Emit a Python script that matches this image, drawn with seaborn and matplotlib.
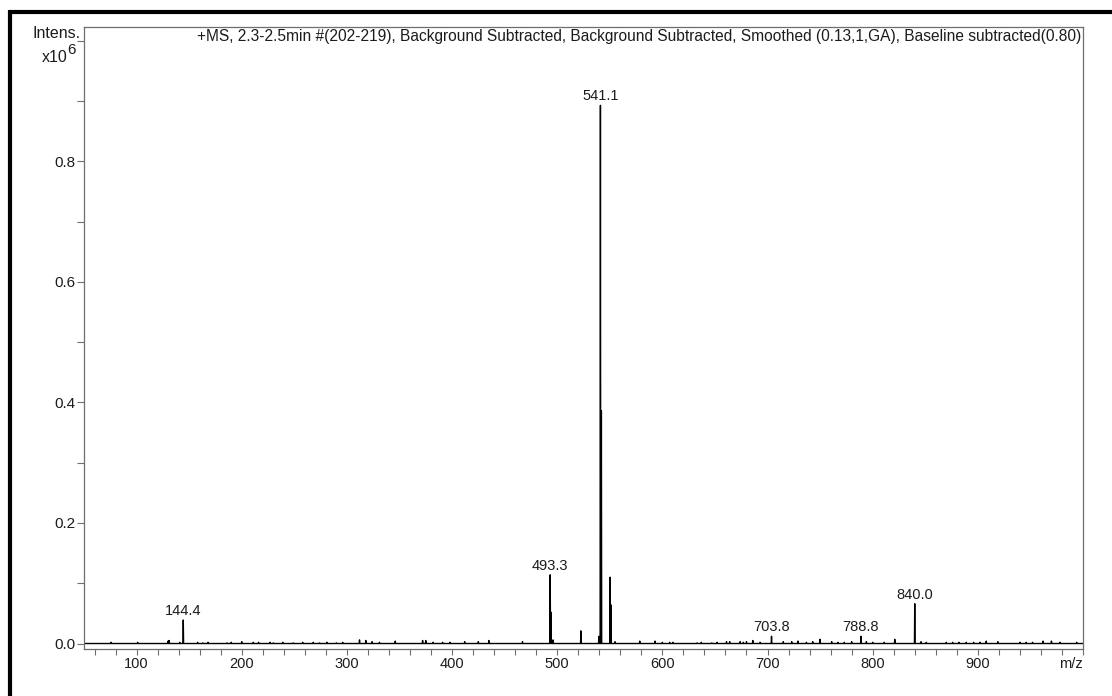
import numpy as np
import pandas as pd
import matplotlib
matplotlib.use("Agg")
import matplotlib.pyplot as plt
from matplotlib.lines import Line2D
from matplotlib.ticker import MultipleLocator
import seaborn as sns

# Main peaks (m/z, intensity x10^6)
main_mz = [130.0, 131.0, 144.4, 493.3, 494.0, 522.5, 539.6, 541.1, 542.0, 550.3, 551.2,
           703.8, 788.8, 840.0]
main_int = [0.004, 0.005, 0.039, 0.114, 0.052, 0.021, 0.012, 0.893, 0.386, 0.110, 0.064,
            0.012, 0.012, 0.066]

# Low-level background peaks
noise_mz = [75.7, 101.0, 141.0, 158.0, 163.0, 168.0, 186.0, 190.0, 200.0, 211.0, 216.0,
            227.0, 230.0, 239.0, 249.0, 258.0, 268.0, 274.0, 281.0, 290.0, 296.0, 312.0,
            318.0, 324.0, 331.0, 346.0, 372.0, 375.0, 382.0, 391.0, 398.0, 412.0, 425.0,
            435.0, 467.0, 496.0, 555.0, 578.5, 593.0, 600.0, 607.0, 610.0, 633.0, 637.0,
            647.0, 652.0, 661.0, 664.0, 674.0, 677.0, 680.0, 686.0, 693.0, 715.0, 723.0,
            729.0, 737.0, 743.0, 750.0, 761.0, 767.0, 773.0, 780.0, 794.0, 800.0, 811.0,
            821.0, 846.0, 851.0, 870.0, 876.0, 882.0, 889.0, 896.0, 902.0, 908.0, 919.0,
            940.0, 946.0, 952.0, 962.0, 970.0, 978.0, 994.0]
noise_int = [0.002, 0.002, 0.002, 0.002, 0.001, 0.002, 0.001, 0.002, 0.003, 0.002, 0.002,
             0.002, 0.001, 0.002, 0.001, 0.002, 0.002, 0.001, 0.002, 0.001, 0.002, 0.006,
             0.005, 0.003, 0.002, 0.004, 0.005, 0.005, 0.002, 0.002, 0.002, 0.003, 0.003,
             0.005, 0.003, 0.006, 0.003, 0.004, 0.004, 0.002, 0.002, 0.002, 0.001, 0.002,
             0.001, 0.002, 0.003, 0.003, 0.003, 0.002, 0.003, 0.005, 0.002, 0.003, 0.003,
             0.004, 0.002, 0.003, 0.007, 0.003, 0.002, 0.002, 0.003, 0.003, 0.002, 0.002,
             0.007, 0.003, 0.002, 0.002, 0.002, 0.002, 0.002, 0.002, 0.002, 0.004, 0.003,
             0.002, 0.002, 0.002, 0.004, 0.004, 0.002, 0.002]

# Annotated peaks
label_mz = [144.4, 493.3, 541.1, 703.8, 788.8, 840.0]
label_int = [0.039, 0.114, 0.893, 0.012, 0.012, 0.066]

title_text = ("+MS, 2.3-2.5min #(202-219), Background Subtracted, Background Subtracted, "
              "Smoothed (0.13,1,GA), Baseline subtracted(0.80)")

x_ticks = [100, 200, 300, 400, 500, 600, 700, 800, 900, 1000]
x_ticklabels = ["100", "200", "300", "400", "500", "600", "700", "800", "900", "m/z"]
y_ticks = [0.0, 0.2, 0.4, 0.6, 0.8, 1.0]
y_ticklabels = ["0.0", "0.2", "0.4", "0.6", "0.8", ""]

sns.set_style("ticks")
plt.rcParams["font.family"] = ["Liberation Sans", "DejaVu Sans"]

TXT = "#1c1c1c"
AX = "#6e6e6e"
W, H = 1112, 696

# Profile trace: each peak is a narrow triangle on a zero baseline
peaks = sorted(zip(main_mz + noise_mz, main_int + noise_int))
xs, ys = [50.0], [0.0]
hw = 0.3
for m, h in peaks:
    xs += [m - hw, m, m + hw]
    ys += [0.0, h, 0.0]
xs.append(1000.0)
ys.append(0.0)
spec = pd.DataFrame({"mz": xs, "intensity": ys})

fig = plt.figure(figsize=(W / 100, H / 100), dpi=100)
ax = fig.add_axes([84 / W, 47 / H, 999 / W, 622 / H])

sns.lineplot(data=spec, x="mz", y="intensity", sort=False, estimator=None,
             color="black", linewidth=1.0, ax=ax)

ax.set_xlim(50, 1000)
ax.set_ylim(-0.0091, 1.023)
ax.set_xlabel("")
ax.set_ylabel("")

ax.set_xticks(x_ticks)
ax.set_xticklabels(x_ticklabels)
ax.xaxis.set_minor_locator(MultipleLocator(20))
ax.set_yticks(y_ticks)
ax.set_yticklabels(y_ticklabels)
ax.yaxis.set_minor_locator(MultipleLocator(0.1))

ax.tick_params(axis="both", which="both", direction="out", color=AX, labelcolor=TXT,
               width=0.8)
ax.tick_params(axis="x", which="both", length=4, pad=2, labelsize=10.5)
ax.tick_params(axis="y", which="both", length=5, pad=1, labelsize=11)
ax.get_xticklabels()[-1].set_horizontalalignment("right")

for s in ax.spines.values():
    s.set_visible(True)
    s.set_color(AX)
    s.set_linewidth(0.9)

# Intensity unit label beside the top tick
fig.text(81 / W, 1 - 33 / H, "Intens.", ha="right", va="center", fontsize=11.5, color=TXT)
fig.text(68 / W, 1 - 58 / H, "x10", ha="right", va="center", fontsize=11.5, color=TXT)
fig.text(67 / W, 1 - 50 / H, "6", ha="left", va="center", fontsize=11, color=TXT)

for m, h in zip(label_mz, label_int):
    ax.annotate(f"{m:.1f}", (m, h), xytext=(0, 1.5), textcoords="offset points",
                ha="center", va="bottom", fontsize=10.5, color=TXT)

ax.text(0.998, 0.996, title_text, transform=ax.transAxes, ha="right", va="top",
        fontsize=11.2, color=TXT)

# Heavy frame along the top and left edges
fig.add_artist(Line2D([9 / W, 1.0], [1 - 12 / H, 1 - 12 / H],
                      transform=fig.transFigure, color="black", linewidth=3.0,
                      solid_capstyle="butt"))
fig.add_artist(Line2D([9.5 / W, 9.5 / W], [0.0, 1 - 10 / H],
                      transform=fig.transFigure, color="black", linewidth=3.0,
                      solid_capstyle="butt"))

fig.savefig("out.png", dpi=100, facecolor="white")
